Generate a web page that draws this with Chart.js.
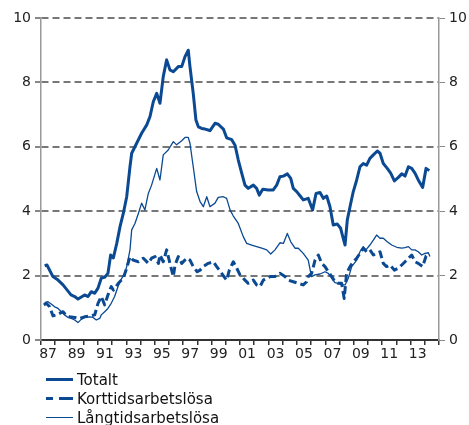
<!DOCTYPE html>
<html>
<head>
<meta charset="utf-8">
<script src="https://cdn.jsdelivr.net/npm/chart.js@4"></script>
<style>
  body { margin: 0; background: #fff; }
  .wrap { position: relative; width: 469px; height: 425px; }
  .legend { position: absolute; left: 46px; top: 370px; margin: 0; padding: 0; list-style: none;
            font-family: "DejaVu Sans", Verdana, sans-serif; font-size: 15px; color: #111; }
  .legend li { display: flex; align-items: center; height: 19px; }
  .legend .swatch { width: 27px; margin-right: 4px; }
</style>
</head>
<body>
<div class="wrap">
  <canvas id="chart" width="469" height="425"></canvas>
  <ul class="legend"></ul>
</div>
<script>
// axis years (one category per year, odd ones labelled)
const years = [];
for (let y = 1987; y <= 2014; y++) years.push(y);

// Totalt
const totX = [1987.26, 1987.42, 1987.84, 1988.2, 1988.55, 1989.11, 1989.37, 1989.6, 1989.81, 1990.07,
  1990.31, 1990.54, 1990.78, 1991.01, 1991.24, 1991.48, 1991.71, 1991.9, 1992.09, 1992.33,
  1992.56, 1992.79, 1993.03, 1993.26, 1993.38, 1993.73, 1994.08, 1994.44, 1994.67, 1994.9,
  1995.14, 1995.37, 1995.6, 1995.84, 1996.07, 1996.31, 1996.66, 1996.9, 1997.13, 1997.36,
  1997.48, 1997.71, 1997.9, 1998.07, 1998.31, 1998.54, 1998.77, 1998.89, 1999.24, 1999.47,
  1999.83, 2000.06, 2000.42, 2000.65, 2000.88, 2001.12, 2001.35, 2001.58, 2001.94, 2002.17,
  2002.36, 2002.6, 2002.99, 2003.34, 2003.58, 2003.81, 2004.05, 2004.33, 2004.57, 2004.75,
  2004.99, 2005.22, 2005.45, 2005.8, 2006.11, 2006.35, 2006.63, 2006.86, 2007.1, 2007.33,
  2007.56, 2007.85, 2008.08, 2008.23, 2008.39, 2008.55, 2008.74, 2008.97, 2009.21, 2009.44,
  2009.67, 2009.91, 2010.14, 2010.38, 2010.66, 2010.85, 2011.08, 2011.36, 2011.6, 2011.86,
  2012.14, 2012.38, 2012.61, 2012.85, 2013.08, 2013.31, 2013.54, 2013.85, 2014.09, 2014.32];
const totY = [2.30, 2.33, 1.97, 1.86, 1.71, 1.40, 1.35, 1.27, 1.33, 1.40,
  1.35, 1.50, 1.45, 1.61, 1.92, 1.95, 2.07, 2.64, 2.55, 3.00,
  3.52, 3.93, 4.45, 5.38, 5.80, 6.11, 6.42, 6.68, 6.94, 7.40,
  7.66, 7.35, 8.18, 8.70, 8.39, 8.33, 8.49, 8.49, 8.80, 9.00,
  8.49, 7.66, 6.83, 6.62, 6.57, 6.55, 6.52, 6.50, 6.73, 6.70,
  6.55, 6.28, 6.22, 6.05, 5.59, 5.18, 4.81, 4.71, 4.81, 4.71,
  4.50, 4.68, 4.66, 4.66, 4.81, 5.07, 5.09, 5.16, 5.02, 4.71,
  4.61, 4.48, 4.35, 4.40, 4.04, 4.55, 4.58, 4.40, 4.47, 4.14,
  3.57, 3.60, 3.47, 3.21, 2.95, 3.73, 4.14, 4.61, 4.97, 5.38,
  5.48, 5.43, 5.64, 5.75, 5.87, 5.80, 5.48, 5.33, 5.18, 4.94,
  5.05, 5.16, 5.09, 5.38, 5.33, 5.18, 4.97, 4.74, 5.33, 5.26];

// Korttidsarbetslösa
const kortX = [1987.2, 1987.37, 1987.61, 1987.84, 1988.07, 1988.31, 1988.55, 1988.78, 1989.02, 1989.37,
  1989.72, 1990.07, 1990.42, 1990.78, 1991.01, 1991.24, 1991.48, 1991.71, 1991.94, 1992.09,
  1992.44, 1992.79, 1993.03, 1993.26, 1993.49, 1993.85, 1994.2, 1994.55, 1994.78, 1995.02,
  1995.26, 1995.37, 1995.6, 1995.84, 1996.07, 1996.31, 1996.43, 1996.66, 1996.9, 1997.25,
  1997.48, 1997.71, 1997.99, 1998.19, 1998.42, 1998.77, 1999.13, 1999.36, 1999.71, 2000.06,
  2000.25, 2000.53, 2000.77, 2001.0, 2001.35, 2001.58, 2001.94, 2002.17, 2002.41, 2002.64,
  2003.11, 2003.46, 2003.81, 2004.16, 2004.4, 2004.75, 2005.1, 2005.45, 2005.69, 2005.8,
  2006.04, 2006.28, 2006.51, 2006.75, 2006.98, 2007.21, 2007.45, 2007.68, 2007.92, 2008.15,
  2008.33, 2008.5, 2008.74, 2008.97, 2009.21, 2009.44, 2009.67, 2009.91, 2010.14, 2010.38,
  2010.61, 2010.85, 2011.08, 2011.31, 2011.55, 2011.86, 2012.14, 2012.38, 2012.61, 2012.85,
  2013.08, 2013.31, 2013.54, 2013.85, 2014.09, 2014.32];
const kortY = [1.09, 1.14, 1.03, 0.75, 0.78, 0.83, 0.88, 0.75, 0.72, 0.70,
  0.67, 0.72, 0.75, 0.78, 1.14, 1.35, 1.09, 1.40, 1.66, 1.55,
  1.76, 1.92, 2.23, 2.59, 2.48, 2.43, 2.54, 2.38, 2.54, 2.59,
  2.38, 2.64, 2.43, 2.80, 2.38, 1.97, 2.33, 2.59, 2.38, 2.54,
  2.48, 2.28, 2.12, 2.17, 2.28, 2.38, 2.43, 2.28, 2.07, 1.86,
  2.17, 2.43, 2.23, 2.02, 1.86, 1.76, 1.86, 1.71, 1.66, 1.86,
  1.97, 1.97, 2.07, 1.97, 1.86, 1.81, 1.76, 1.71, 1.81, 1.97,
  2.07, 2.48, 2.64, 2.38, 2.28, 2.12, 1.97, 1.81, 1.76, 1.76,
  1.29, 2.07, 2.28, 2.43, 2.54, 2.69, 2.85, 2.74, 2.80, 2.64,
  2.69, 2.74, 2.38, 2.28, 2.33, 2.17, 2.23, 2.33, 2.43, 2.54,
  2.64, 2.43, 2.38, 2.28, 2.61, 2.67];

// Långtidsarbetslösa
const langX = [1987.26, 1987.49, 1987.72, 1987.96, 1988.2, 1988.43, 1988.66, 1988.9, 1989.13, 1989.37,
  1989.6, 1989.83, 1990.07, 1990.42, 1990.66, 1990.89, 1991.13, 1991.24, 1991.48, 1991.71,
  1991.94, 1992.18, 1992.42, 1992.66, 1992.89, 1993.03, 1993.26, 1993.38, 1993.61, 1993.85,
  1994.08, 1994.31, 1994.55, 1994.78, 1995.14, 1995.37, 1995.6, 1995.95, 1996.31, 1996.54,
  1996.9, 1997.13, 1997.36, 1997.48, 1997.71, 1997.95, 1998.19, 1998.42, 1998.66, 1998.89,
  1999.24, 1999.47, 1999.83, 2000.06, 2000.3, 2000.53, 2000.88, 2001.23, 2001.47, 2001.82,
  2002.17, 2002.53, 2002.88, 2003.16, 2003.46, 2003.81, 2004.05, 2004.33, 2004.57, 2004.87,
  2005.1, 2005.45, 2005.8, 2006.03, 2006.27, 2006.63, 2006.98, 2007.21, 2007.45, 2007.68,
  2007.92, 2008.15, 2008.39, 2008.62, 2008.86, 2009.21, 2009.44, 2009.67, 2009.86, 2010.14,
  2010.38, 2010.61, 2010.85, 2011.08, 2011.36, 2011.67, 2012.03, 2012.38, 2012.61, 2012.85,
  2013.08, 2013.31, 2013.54, 2013.78, 2014.01, 2014.25, 2014.36];
const langY = [1.16, 1.19, 1.12, 1.03, 0.98, 0.88, 0.78, 0.70, 0.67, 0.62,
  0.54, 0.64, 0.70, 0.72, 0.70, 0.62, 0.67, 0.78, 0.88, 0.98,
  1.14, 1.35, 1.66, 1.90, 2.07, 2.28, 2.80, 3.42, 3.62, 3.93,
  4.25, 4.04, 4.55, 4.81, 5.33, 4.97, 5.75, 5.90, 6.16, 6.06,
  6.19, 6.29, 6.29, 6.11, 5.38, 4.61, 4.30, 4.14, 4.45, 4.14,
  4.25, 4.43, 4.45, 4.40, 4.04, 3.85, 3.62, 3.21, 3.00, 2.95,
  2.90, 2.85, 2.80, 2.67, 2.80, 3.02, 3.00, 3.31, 3.05, 2.85,
  2.85, 2.69, 2.48, 1.97, 2.02, 2.05, 2.12, 2.07, 1.92, 1.78,
  1.76, 1.71, 1.71, 1.92, 2.28, 2.48, 2.74, 2.90, 2.80, 2.95,
  3.10, 3.26, 3.16, 3.16, 3.05, 2.95, 2.88, 2.85, 2.87, 2.90,
  2.80, 2.80, 2.74, 2.64, 2.69, 2.71, 2.59];

const blue = "#0b4a92";
const toPoints = (xs, ys) => xs.map((x, i) => ({ x: x, y: ys[i] }));

Chart.defaults.font.family = '"DejaVu Sans", Verdana, sans-serif';
Chart.defaults.font.size = 14;
Chart.defaults.color = "#222";

const chart = new Chart(document.getElementById("chart"), {
  type: "line",
  data: {
    datasets: [
      { label: "Totalt", data: toPoints(totX, totY), borderColor: blue, borderWidth: 3 },
      { label: "Korttidsarbetslösa", data: toPoints(kortX, kortY), borderColor: blue, borderWidth: 3, borderDash: [8, 4] },
      { label: "Långtidsarbetslösa", data: toPoints(langX, langY), borderColor: blue, borderWidth: 1.3 },
    ],
  },
  options: {
    responsive: false,
    animation: false,
    layout: { padding: { top: 18, left: 0, right: 0, bottom: 0 } },
    elements: { point: { radius: 0 }, line: { tension: 0, borderJoinStyle: "round" } },
    plugins: { legend: { display: false }, tooltip: { enabled: false } },
    scales: {
      x: { type: "linear", min: 1987, max: 2015, display: false },
      yr: {
        type: "category",
        labels: years,
        position: "bottom",
        offset: true,
        grid: { offset: true, drawOnChartArea: false, tickLength: 5, color: "#333", lineWidth: 1.5 },
        border: { color: "#333", width: 2 },
        ticks: {
          autoSkip: false, maxRotation: 0, padding: 1,
          callback: (v) => (years[v] % 2 ? String(years[v]).slice(2) : ""),
        },
        afterFit: (s) => { s.height = 85; },
      },
      y: {
        position: "left",
        min: 0, max: 10,
        ticks: { stepSize: 2, padding: 4 },
        grid: { color: (c) => (c.tick && c.tick.value === 0 ? "rgba(0,0,0,0)" : "#777"), lineWidth: 2, tickLength: 6, tickColor: "#888" },
        border: { color: "#999", width: 1.5, dash: [7, 4] },
        afterFit: (s) => { s.width = 41; },
      },
      y2: {
        position: "right",
        min: 0, max: 10,
        ticks: { stepSize: 2, padding: 4 },
        grid: { drawOnChartArea: false, tickLength: 6, color: "#888" },
        border: { color: "#999", width: 1.5 },
        afterFit: (s) => { s.width = 30; },
      },
    },
  },
});

// html legend, one row per series
const ul = document.querySelector(".legend");
chart.data.datasets.forEach((ds) => {
  const li = document.createElement("li");
  const sw = document.createElement("span");
  sw.className = "swatch";
  sw.style.height = ds.borderWidth + "px";
  sw.style.background = ds.borderDash
    ? `linear-gradient(90deg, ${blue} 0 7px, transparent 7px 13px, ${blue} 13px 27px)`
    : blue;
  li.appendChild(sw);
  li.appendChild(document.createTextNode(ds.label));
  ul.appendChild(li);
});
</script>
</body>
</html>
